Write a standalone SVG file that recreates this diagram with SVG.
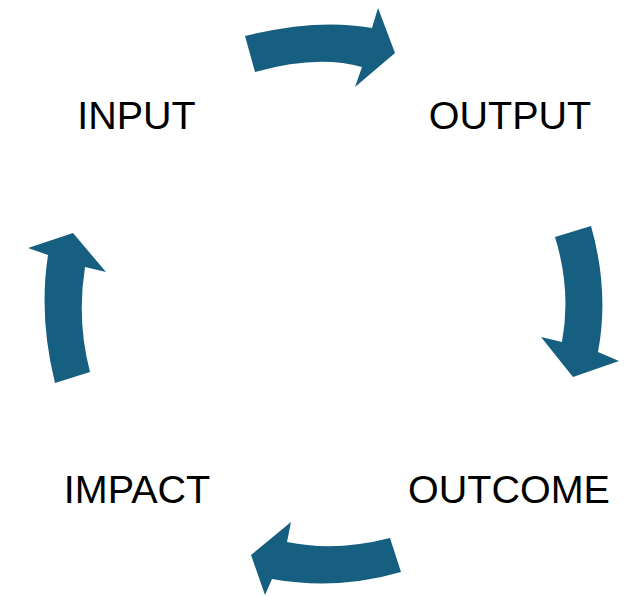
<svg xmlns="http://www.w3.org/2000/svg" width="630" height="596" viewBox="0 0 630 596">
<style>
.arrow{fill:#165f80;stroke:none}
.label{font-family:"Liberation Sans",Arial,sans-serif;font-size:39.5px;fill:#000;text-anchor:middle}
</style>
<rect width="630" height="596" fill="#fff"/>
<g id="connectors">
<path class="arrow" d="M245,36 Q317.5,18 372,28 L378,8 L395,53 L355,87 L362,67 Q317.5,54.5 255,72 Z"/>
<path class="arrow" d="M555,237 L591,226 Q609.5,291 598,352 L619,361 L573,377 L541,337 L562,342 Q571.5,290.5 555,237 Z"/>
<path class="arrow" d="M390,538 Q335.5,552 287,542 L291,522 L251,555 L265,595 L272,579 Q337.5,590.5 401,572 Z"/>
<path class="arrow" d="M55,383 L90,372 Q76.5,320.5 85,267 L106,272 L73,233 L28,248 L48,255 Q38.5,317 55,383 Z"/>
</g>
<g id="input"><text class="label" x="136.5" y="129">INPUT</text></g>
<g id="output"><text class="label" x="510" y="129">OUTPUT</text></g>
<g id="outcome"><text class="label" x="509" y="503">OUTCOME</text></g>
<g id="impact"><text class="label" x="137" y="503">IMPACT</text></g>
</svg>
